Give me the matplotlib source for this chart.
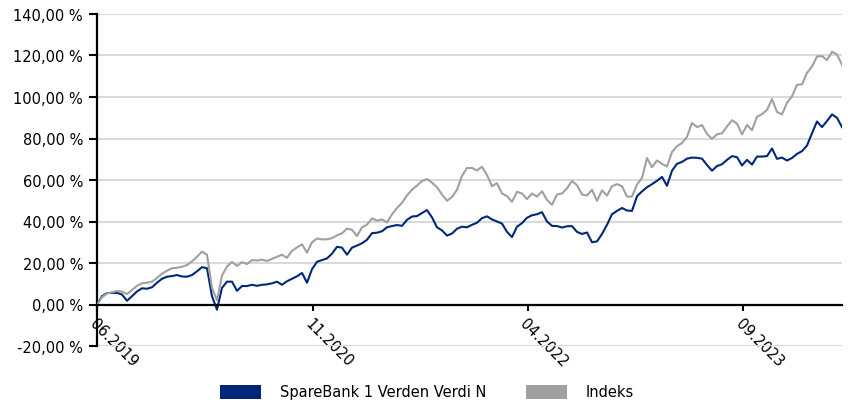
import matplotlib
matplotlib.use("Agg")
import matplotlib.pyplot as plt
import matplotlib.dates as mdates
from matplotlib.ticker import FuncFormatter
from matplotlib.patches import Patch
import pandas as pd

start_date = "2019-06-01"
end_date = "2024-04-26"

series_names = ["SpareBank 1 Verden Verdi N", "Indeks"]
series_colors = ["#00287a", "#a0a0a0"]

fund = [
    0.0, 4.0, 5.5, 5.6, 5.6, 4.8, 1.8, 4.0, 6.3, 7.8,
    7.6, 8.3, 10.5, 12.4, 13.4, 13.7, 14.2, 13.5, 13.4, 14.2,
    16.0, 18.0, 17.5, 4.0, -2.5, 8.0, 11.0, 11.0, 6.6, 8.9,
    8.9, 9.5, 9.0, 9.5, 9.7, 10.2, 11.0, 9.5, 11.2, 12.4,
    13.6, 15.2, 10.5, 17.0, 20.6, 21.4, 22.2, 24.5, 27.8, 27.4,
    24.0, 27.4, 28.4, 29.5, 31.2, 34.4, 34.6, 35.3, 37.2, 37.8,
    38.3, 37.9, 40.8, 42.4, 42.6, 44.1, 45.5, 42.0, 37.2, 35.7,
    33.2, 34.2, 36.5, 37.5, 37.2, 38.4, 39.4, 41.6, 42.5, 41.0,
    40.0, 39.0, 35.0, 32.5, 37.5, 39.2, 41.8, 43.0, 43.5, 44.5,
    40.0, 37.9, 37.8, 37.1, 37.7, 37.8, 35.0, 34.0, 34.7, 30.0,
    30.4, 34.0, 38.4, 43.5, 45.1, 46.5, 45.3, 45.1, 52.2, 54.5,
    56.5, 58.0, 59.6, 61.5, 57.2, 64.5, 67.8, 68.7, 70.3, 70.8,
    70.7, 70.3, 67.2, 64.5, 66.7, 67.6, 69.7, 71.5, 71.0, 67.0,
    69.7, 67.4, 71.3, 71.3, 71.5, 75.2, 70.2, 70.8, 69.4, 70.6,
    72.6, 73.9, 76.6, 82.5, 88.2, 85.5, 88.4, 91.6, 90.0, 85.5,
]

index = [
    0.0, 3.5, 5.3, 5.9, 6.5, 6.2, 5.0, 7.0, 9.0, 10.2,
    10.5, 11.0, 12.8, 14.8, 16.3, 17.5, 17.7, 18.2, 19.0, 20.8,
    23.0, 25.5, 24.0, 8.0, 2.0, 14.0, 18.3, 20.5, 18.6, 20.4,
    19.5, 21.4, 21.2, 21.6, 21.0, 22.0, 23.0, 24.0, 22.5, 25.9,
    27.5, 29.0, 25.0, 30.0, 31.8, 31.4, 31.4, 32.0, 33.3, 34.3,
    36.6, 36.0, 33.0, 37.2, 38.5, 41.5, 40.4, 41.0, 39.5, 43.5,
    46.5, 49.0, 52.6, 55.3, 57.3, 59.5, 60.5, 58.7, 56.5, 53.0,
    50.0, 51.8, 55.3, 62.0, 65.8, 65.8, 64.6, 66.4, 62.4, 57.0,
    58.5, 53.5, 52.2, 49.5, 54.3, 53.5, 50.8, 53.5, 52.0, 54.6,
    50.4, 48.0, 53.0, 53.5, 56.0, 59.5, 57.5, 53.0, 52.5, 55.3,
    50.0, 55.0, 52.5, 57.0, 58.0, 57.0, 52.0, 52.0, 57.8, 61.0,
    70.6, 66.2, 69.4, 67.8, 66.5, 73.5, 76.3, 77.8, 80.8, 87.5,
    85.5, 86.5, 82.2, 79.8, 82.0, 82.5, 85.8, 88.8, 87.2, 82.0,
    86.5, 84.0, 90.5, 91.7, 93.8, 99.0, 92.8, 91.6, 97.2, 100.3,
    105.9, 106.1, 111.6, 114.7, 119.5, 119.7, 117.8, 121.8, 120.5, 115.5,
]

xtick_dates = ["2019-06-01", "2020-11-01", "2022-04-01", "2023-09-01"]
ytick_values = [-20, 0, 20, 40, 60, 80, 100, 120, 140]

plt.rcParams["font.family"] = ["DejaVu Sans"]
fig = plt.figure(figsize=(8.48, 4.10), dpi=100)
ax = fig.add_axes([97 / 848, 1 - 347 / 410, (842 - 97) / 848, (347 - 15) / 410])

for vals, name, col in zip([fund, index], series_names, series_colors):
    dates = pd.date_range(start_date, end_date, periods=len(vals))
    ax.plot(dates, vals, color=col, lw=1.5, label=name, zorder=3)

ax.set_xlim(pd.Timestamp(start_date), pd.Timestamp(end_date))
ax.set_ylim(-20, 140)
ax.set_yticks(ytick_values)
ax.yaxis.set_major_formatter(FuncFormatter(lambda v, p: f"{v:.2f}".replace(".", ",") + " %"))
ax.set_xticks([pd.Timestamp(d) for d in xtick_dates])
ax.xaxis.set_major_formatter(mdates.DateFormatter("%m.%Y"))

ax.grid(axis="y", color="#d9d9d9", lw=1.5, zorder=0)
ax.set_axisbelow(True)
for s in ["top", "right"]:
    ax.spines[s].set_visible(False)
ax.spines["bottom"].set_position(("data", 0))
ax.spines["bottom"].set_linewidth(1.6)
ax.spines["left"].set_linewidth(1.6)
ax.spines["bottom"].set_zorder(4)

ax.tick_params(axis="y", length=6, width=1.5, pad=4, labelsize=10.5, colors="black")
ax.tick_params(axis="x", length=4, width=1.5, pad=4, labelsize=10.5)
for lab in ax.get_xticklabels():
    lab.set_rotation(-45)
    lab.set_ha("left")
    lab.set_va("top")
    lab.set_rotation_mode("anchor")

handles = [Patch(facecolor=c, edgecolor="none") for c in series_colors]
fig.legend(handles, series_names, loc="center", bbox_to_anchor=(0.5036, 1 - 393 / 410),
           ncol=2, frameon=False, fontsize=10.5, handlelength=2.8, handleheight=1.1,
           handletextpad=1.3, columnspacing=2.76)

fig.savefig("out.png", dpi=100)
